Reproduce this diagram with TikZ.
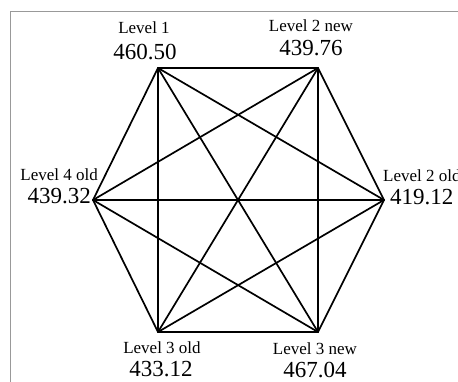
\documentclass[tikz,border=0pt]{standalone}
\usepackage{fontspec}
\setmainfont{Liberation Serif}
\begin{document}
\begin{tikzpicture}[x=1pt,y=-1pt,
  edge/.style={line width=1.7pt, line cap=round, line join=round},
  small/.style={font=\fontsize{17}{17}\selectfont, anchor=base, inner sep=0pt},
  big/.style={font=\fontsize{23}{23}\selectfont, anchor=base, inner sep=0pt}]
\clip (0,0) rectangle (458,382);
\fill[white] (0,0) rectangle (458,382);
\draw[gray!80, line width=1pt] (10,382) -- (10,12) -- (458,12);
\coordinate (a) at (158,68);
\coordinate (b) at (318,68);
\coordinate (c) at (384,200);
\coordinate (d) at (318,332);
\coordinate (e) at (158,332);
\coordinate (f) at (93,200);
\foreach \p/\q in {a/b,a/c,a/d,a/e,a/f,b/c,b/d,b/e,b/f,c/d,c/e,c/f,d/e,d/f,e/f}
  \draw[edge] (\p) -- (\q);
\node[small] (la) at (144,34) {Level 1};
\node[big] (va) at (145,60) {460.50};
\node[small] (lb) at (311,32) {Level 2 new};
\node[big] (vb) at (311,56) {439.76};
\node[small, anchor=base west] (lc) at (383,182) {Level 2 old};
\node[big, anchor=base west] (vc) at (390,205) {419.12};
\node[small] (ld) at (315,354) {Level 3 new};
\node[big] (vd) at (315,377) {467.04};
\node[small] (le) at (162,353) {Level 3 old};
\node[big] (ve) at (161,376) {433.12};
\node[small, anchor=base east] (lf) at (98,181) {Level 4 old};
\node[big, anchor=base east] (vf) at (91,204) {439.32};
\end{tikzpicture}
\end{document}
